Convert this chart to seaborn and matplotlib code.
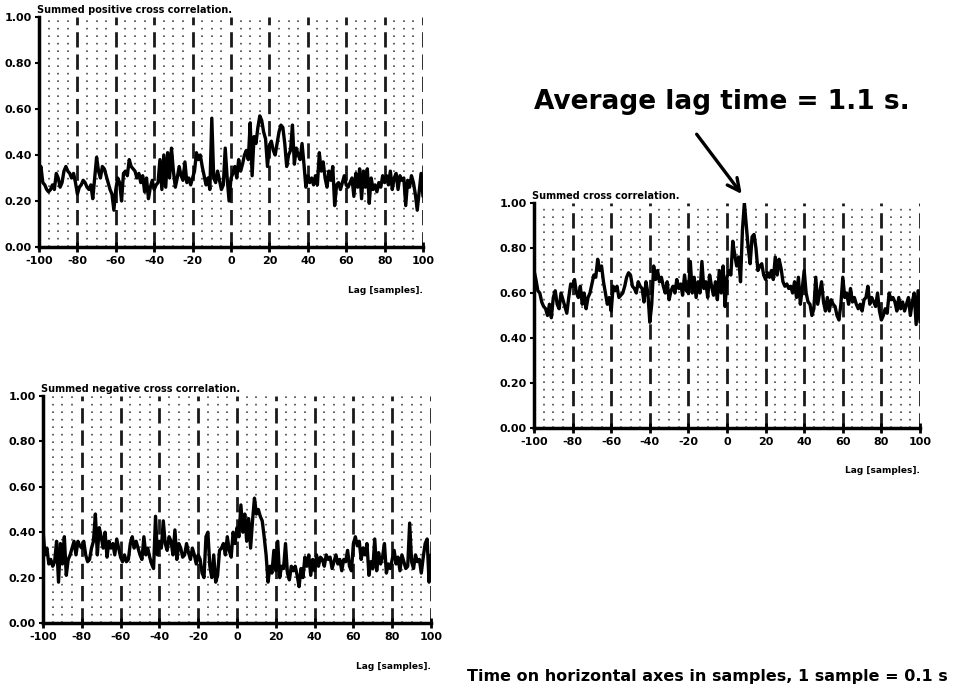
import matplotlib
matplotlib.use("Agg")
import matplotlib.pyplot as plt
from matplotlib.ticker import MultipleLocator, FormatStrFormatter
import seaborn as sns

# lag axis, one value per sample
lags = list(range(-100, 101))

positive = [
    0.32, 0.35, 0.28, 0.27, 0.25, 0.24, 0.25, 0.27, 0.25, 0.32,
    0.30, 0.26, 0.28, 0.33, 0.35, 0.33, 0.32, 0.30, 0.32, 0.28,
    0.23, 0.26, 0.27, 0.29, 0.28, 0.26, 0.25, 0.27, 0.21, 0.30,
    0.39, 0.33, 0.30, 0.35, 0.34, 0.31, 0.28, 0.25, 0.23, 0.16,
    0.25, 0.30, 0.28, 0.20, 0.32, 0.33, 0.31, 0.38, 0.35, 0.34,
    0.33, 0.30, 0.32, 0.28, 0.31, 0.24, 0.30, 0.21, 0.26, 0.29,
    0.25, 0.27, 0.28, 0.38, 0.25, 0.40, 0.26, 0.41, 0.30, 0.43,
    0.33, 0.26, 0.30, 0.35, 0.31, 0.29, 0.37, 0.28, 0.30, 0.27,
    0.30, 0.33, 0.41, 0.38, 0.40, 0.35, 0.31, 0.27, 0.30, 0.25,
    0.56, 0.30, 0.28, 0.33, 0.29, 0.25, 0.27, 0.43, 0.30, 0.20,
    0.30, 0.32, 0.35, 0.30, 0.38, 0.33, 0.36, 0.40, 0.42, 0.38,
    0.54, 0.31, 0.48, 0.45, 0.52, 0.57, 0.55, 0.50, 0.47, 0.35,
    0.44, 0.46, 0.42, 0.40, 0.45, 0.50, 0.53, 0.52, 0.45, 0.35,
    0.40, 0.42, 0.53, 0.36, 0.43, 0.40, 0.38, 0.45, 0.36, 0.26,
    0.31, 0.28, 0.30, 0.27, 0.31, 0.27, 0.41, 0.33, 0.37, 0.30,
    0.26, 0.33, 0.29, 0.35, 0.18, 0.27, 0.28, 0.25, 0.28, 0.31,
    0.27, 0.26, 0.28, 0.30, 0.22, 0.32, 0.26, 0.34, 0.21, 0.33,
    0.26, 0.34, 0.19, 0.30, 0.25, 0.27, 0.24, 0.28, 0.26, 0.31,
    0.28, 0.31, 0.27, 0.33, 0.25, 0.30, 0.32, 0.25, 0.31, 0.29,
    0.30, 0.18, 0.29, 0.26, 0.31, 0.28, 0.23, 0.16, 0.24, 0.32,
    0.22,
]

negative = [
    0.41, 0.30, 0.33, 0.26, 0.28, 0.25, 0.27, 0.36, 0.18, 0.35,
    0.26, 0.38, 0.21, 0.28, 0.30, 0.33, 0.36, 0.30, 0.36, 0.34,
    0.33, 0.36, 0.30, 0.27, 0.28, 0.33, 0.36, 0.48, 0.30, 0.42,
    0.38, 0.33, 0.40, 0.29, 0.36, 0.33, 0.35, 0.30, 0.37, 0.33,
    0.29, 0.27, 0.30, 0.27, 0.28, 0.35, 0.38, 0.33, 0.36, 0.33,
    0.30, 0.28, 0.38, 0.30, 0.33, 0.29, 0.26, 0.24, 0.47, 0.30,
    0.36, 0.33, 0.45, 0.35, 0.32, 0.38, 0.36, 0.30, 0.41, 0.28,
    0.35, 0.33, 0.29, 0.30, 0.35, 0.31, 0.28, 0.33, 0.30, 0.26,
    0.30, 0.28, 0.22, 0.20, 0.38, 0.40, 0.25, 0.20, 0.30, 0.18,
    0.21, 0.32, 0.33, 0.35, 0.30, 0.38, 0.32, 0.29, 0.40, 0.35,
    0.42, 0.38, 0.52, 0.40, 0.48, 0.36, 0.46, 0.33, 0.45, 0.55,
    0.48, 0.50, 0.47, 0.45, 0.38, 0.30, 0.18, 0.25, 0.22, 0.32,
    0.23, 0.36, 0.20, 0.25, 0.24, 0.35, 0.22, 0.19, 0.25, 0.23,
    0.25, 0.21, 0.16, 0.24, 0.20, 0.29, 0.25, 0.30, 0.21, 0.28,
    0.23, 0.30, 0.25, 0.29, 0.28, 0.25, 0.30, 0.28, 0.29, 0.24,
    0.27, 0.30, 0.26, 0.28, 0.23, 0.28, 0.27, 0.32, 0.25, 0.23,
    0.35, 0.38, 0.34, 0.36, 0.28, 0.33, 0.30, 0.35, 0.21, 0.27,
    0.24, 0.37, 0.23, 0.31, 0.26, 0.29, 0.35, 0.22, 0.26, 0.24,
    0.28, 0.32, 0.26, 0.29, 0.23, 0.30, 0.27, 0.24, 0.25, 0.44,
    0.27, 0.24, 0.30, 0.27, 0.28, 0.22, 0.29, 0.35, 0.37, 0.18,
    0.30,
]

summed = [
    0.70, 0.66, 0.61, 0.60, 0.56, 0.54, 0.53, 0.50, 0.55, 0.49,
    0.58, 0.61, 0.55, 0.53, 0.60, 0.57, 0.54, 0.51, 0.58, 0.64,
    0.63, 0.66, 0.60, 0.58, 0.63, 0.55, 0.60, 0.53, 0.58, 0.60,
    0.64, 0.68, 0.67, 0.75, 0.70, 0.72, 0.65, 0.60, 0.55, 0.58,
    0.52, 0.63, 0.61, 0.63, 0.58, 0.59, 0.60, 0.63, 0.67, 0.69,
    0.68, 0.63, 0.62, 0.60, 0.65, 0.63, 0.62, 0.56, 0.65, 0.60,
    0.47, 0.55, 0.72, 0.66, 0.70, 0.65, 0.67, 0.63, 0.60, 0.65,
    0.57, 0.61, 0.63, 0.60, 0.66, 0.62, 0.64, 0.59, 0.68, 0.61,
    0.60, 0.74, 0.60, 0.67, 0.58, 0.65, 0.60, 0.74, 0.62, 0.65,
    0.58, 0.68, 0.63, 0.59, 0.65, 0.57, 0.70, 0.60, 0.72, 0.54,
    0.67, 0.70, 0.68, 0.83, 0.77, 0.72, 0.76, 0.65, 0.88, 1.00,
    0.90, 0.80, 0.73, 0.85, 0.86, 0.80, 0.70, 0.72, 0.73, 0.68,
    0.66, 0.69, 0.67, 0.70, 0.66, 0.76, 0.68, 0.75, 0.71, 0.65,
    0.63, 0.64, 0.62, 0.63, 0.60, 0.65, 0.58, 0.67, 0.55, 0.62,
    0.70, 0.60, 0.56, 0.55, 0.50, 0.53, 0.67, 0.55, 0.60, 0.65,
    0.56, 0.52, 0.58, 0.52, 0.57, 0.55, 0.54, 0.50, 0.48, 0.55,
    0.67, 0.58, 0.60, 0.55, 0.62, 0.56, 0.58, 0.55, 0.53, 0.55,
    0.52, 0.57, 0.58, 0.63, 0.55, 0.58, 0.56, 0.54, 0.60, 0.52,
    0.48, 0.50, 0.53, 0.51, 0.60, 0.57, 0.58, 0.56, 0.52, 0.58,
    0.53, 0.56, 0.52, 0.55, 0.58, 0.50, 0.56, 0.60, 0.46, 0.61,
    0.47,
]

peak_lag = 8.5


def draw_panel(fig, rect, values, title):
    ax = fig.add_axes(rect)
    sns.lineplot(x=lags, y=values, ax=ax, color="black", linewidth=2.4)
    ax.set_xlim(-100, 100)
    ax.set_ylim(0, 1)
    ax.set_xlabel("")
    ax.set_ylabel("")

    ax.xaxis.set_major_locator(MultipleLocator(20))
    ax.xaxis.set_minor_locator(MultipleLocator(5))
    ax.yaxis.set_major_locator(MultipleLocator(0.2))
    ax.yaxis.set_major_formatter(FormatStrFormatter("%.2f"))

    # dashed lines every 20 samples, dotted columns every 5
    ax.grid(which="major", axis="x", color="#1a1a1a", linewidth=2,
            linestyle=(0, (11, 5)))
    ax.grid(which="minor", axis="x", color="#555555", linewidth=1.3,
            linestyle=(0, (1.2, 4.2)))
    ax.grid(which="both", axis="y", visible=False)

    for side in ["top", "right"]:
        ax.spines[side].set_visible(False)
    for side in ["left", "bottom"]:
        ax.spines[side].set_linewidth(2.5)
        ax.spines[side].set_color("black")

    ax.tick_params(axis="x", which="major", direction="inout", length=7,
                   width=2, pad=3, labelsize=8, bottom=True, colors="black")
    ax.tick_params(axis="x", which="minor", length=0)
    ax.tick_params(axis="y", which="major", direction="out", length=3,
                   width=1.5, pad=2, labelsize=8, left=True, colors="black")

    ax.text(-0.005, 1.008, title, transform=ax.transAxes, fontsize=7,
            va="bottom", ha="left")
    ax.text(1.0, -0.19, "Lag [samples].", transform=ax.transAxes,
            fontsize=6.5, va="center", ha="right")
    return ax


def main():
    sns.set_style("white")
    plt.rcParams["font.family"] = ["DejaVu Sans"]
    plt.rcParams["font.weight"] = "bold"
    plt.rcParams["text.color"] = "black"
    plt.rcParams["axes.unicode_minus"] = False
    plt.rcParams["lines.scale_dashes"] = False

    W, H = 972, 690
    fig = plt.figure(figsize=(W / 100, H / 100), dpi=100)

    def rect(left, top, right, bottom):
        return [left / W, 1 - bottom / H, (right - left) / W, (bottom - top) / H]

    draw_panel(fig, rect(39, 17, 423, 247), positive,
               "Summed positive cross correlation.")
    draw_panel(fig, rect(43, 396, 431, 623), negative,
               "Summed negative cross correlation.")
    ax3 = draw_panel(fig, rect(534, 203, 920, 428), summed,
                     "Summed cross correlation.")

    fig.text(534 / W, 1 - 102 / H, "Average lag time = 1.1 s.",
             fontsize=19, va="center", ha="left", color="black")
    ax3.annotate("", xy=(peak_lag, 1.03), xycoords="data",
                 xytext=(695 / W, 1 - 132 / H), textcoords="figure fraction",
                 arrowprops=dict(arrowstyle="->", lw=2.4, color="black",
                                 mutation_scale=22),
                 annotation_clip=False)

    fig.text(467 / W, 1 - 676 / H,
             "Time on horizontal axes in samples, 1 sample = 0.1 s",
             fontsize=11.5, va="center", ha="left", color="black")

    fig.savefig("out.png", dpi=100)
    plt.close(fig)


if __name__ == "__main__":
    main()
